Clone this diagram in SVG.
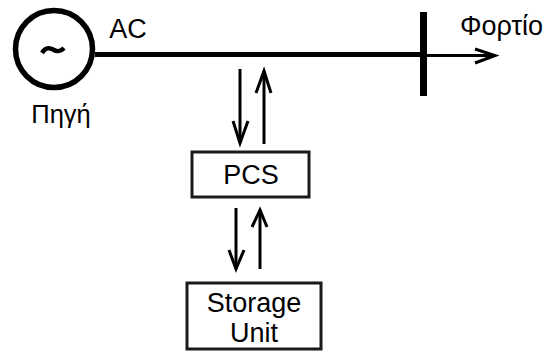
<svg xmlns="http://www.w3.org/2000/svg" width="545" height="356" viewBox="0 0 545 356">
<defs><style>
text{font-family:"Liberation Sans",Arial,sans-serif;fill:#000;text-anchor:middle;font-size:27px}
.l{fill:none;stroke:#000;stroke-width:3}
.h{fill:none;stroke:#000;stroke-width:3;stroke-linejoin:miter}
.b{fill:#fff;stroke:#1a1a1a;stroke-width:3}
</style></defs>
<rect width="545" height="356" fill="#fff"/>
<g id="connectors">
<path d="M95 54.500H424" fill="none" stroke="#000" stroke-width="5"/>
<path d="M424 55.500H495" class="l"/>
<path d="M475 49L495 55.500L475 63" class="h"/>
<path d="M240 69V143" class="l"/>
<path d="M233 121L240 143L248 121" class="h"/>
<path d="M264 144V71" class="l"/>
<path d="M256 93L264 71L271 93" class="h"/>
<path d="M236 208V269" class="l"/>
<path d="M229 250L236 269L244 250" class="h"/>
<path d="M260 269V210" class="l"/>
<path d="M252 227L260 210L267 227" class="h"/>
</g>
<g id="source">
<circle cx="54" cy="49" r="38.500" fill="#fff" stroke="#000" stroke-width="5.500"/>
<path d="M42 53C45 48 49 47 53 49.500C57 52 60 52 64 48" fill="none" stroke="#000" stroke-width="4.500"/>
<text x="61" y="123" style="font-size:25.500px">Πηγή</text>
</g>
<g id="bus"><rect x="420" y="12" width="7" height="84" fill="#000"/></g>
<g id="ac-label"><text x="128" y="38">AC</text></g>
<g id="load-label"><text x="501.500" y="35">Φορτίο</text></g>
<g id="pcs">
<rect x="192" y="152" width="117" height="45" class="b"/>
<text x="251" y="184">PCS</text>
</g>
<g id="storage">
<rect x="187" y="283" width="134" height="66" class="b"/>
<text x="254" y="312">Storage</text>
<text x="254" y="342">Unit</text>
</g>
</svg>
